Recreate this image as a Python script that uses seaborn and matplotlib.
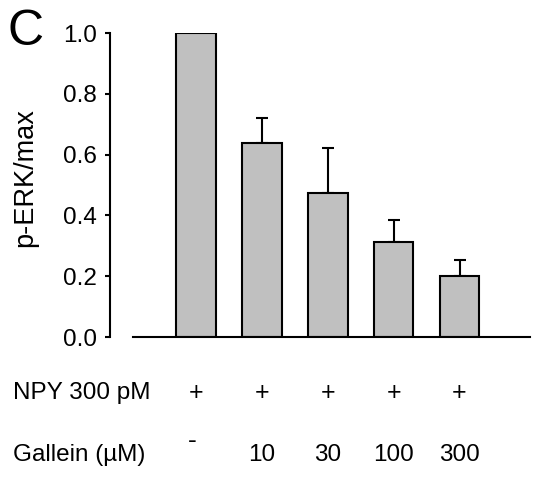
import matplotlib
matplotlib.use("Agg")
import matplotlib.pyplot as plt
import matplotlib.transforms as mtransforms
import seaborn as sns
import pandas as pd
import numpy as np

# ---- data ----
conditions = ["ctrl", "G10", "G30", "G100", "G300"]
values = [1.0, 0.637, 0.475, 0.311, 0.200]
err_upper = [0.0, 0.083, 0.148, 0.074, 0.052]
npy_labels = ["+", "+", "+", "+", "+"]
gallein_labels = ["-", "10", "30", "100", "300"]
ylabel = "p-ERK/max"
panel = "C"
yticks = [0.0, 0.2, 0.4, 0.6, 0.8, 1.0]

sns.set_style("white")
plt.rcParams["font.family"] = ["Liberation Sans", "DejaVu Sans"]
plt.rcParams["text.color"] = "black"
plt.rcParams["axes.labelcolor"] = "black"
plt.rcParams["xtick.color"] = "black"
plt.rcParams["ytick.color"] = "black"

df = pd.DataFrame({"cond": conditions, "val": values})

fig = plt.figure(figsize=(5.35, 4.78), dpi=100)
ax = fig.add_axes([110/535, 1-337/478, 420/535, (337-33)/478])

sns.barplot(data=df, x="cond", y="val", order=conditions, color="#c0c0c0",
            width=0.6, edgecolor="black", linewidth=1.5, saturation=1, ax=ax,
            errorbar=None, zorder=2)

x = np.arange(len(conditions))
mask = np.array(err_upper) > 0
ax.errorbar(x[mask], np.array(values)[mask],
            yerr=[np.zeros(mask.sum()), np.array(err_upper)[mask]],
            fmt="none", ecolor="black", elinewidth=1.5, capsize=4, capthick=1.5, zorder=1)

ax.set_ylim(0, 1.0)
ax.set_xlim(-1.305, 5.07)
ax.set_yticks(yticks)
ax.set_yticklabels([f"{t:.1f}" for t in yticks], fontsize=17.5, color="black")
ax.set_xticks([])
ax.set_xlabel("")
ax.set_ylabel(ylabel, fontsize=19.5, color="black")
ax.yaxis.set_label_coords(-0.202, 0.523)
ax.yaxis.label.set_va("center")

for s in ["top", "right"]:
    ax.spines[s].set_visible(False)
for s in ["left", "bottom"]:
    ax.spines[s].set_linewidth(1.5)
    ax.spines[s].set_color("black")
ax.spines["bottom"].set_bounds(-0.96, 5.07)
ax.spines["left"].set_bounds(0, 1.0)
ax.tick_params(axis="y", direction="out", length=3.5, width=1.5, color="black", pad=6, left=True)

trans = mtransforms.blended_transform_factory(ax.transData, fig.transFigure)
for i, lab in enumerate(npy_labels):
    ax.text(i, 1-393/478, lab, transform=trans, ha="center", va="center", fontsize=18, color="black")
for i, lab in enumerate(gallein_labels):
    if lab == "-":
        ax.text(i - 0.05, 1-441/478, lab, transform=trans, ha="center", va="center", fontsize=19, color="black")
    else:
        ax.text(i, 1-455/478, lab, transform=trans, ha="center", va="center", fontsize=17.5, color="black")
fig.text(13/535, 1-393/478, "NPY 300 pM", ha="left", va="center", fontsize=17.5, color="black")
fig.text(13/535, 1-455/478, "Gallein (µM)", ha="left", va="center", fontsize=17.5, color="black")
fig.text(8/535, 1-32/478, panel, ha="left", va="center", fontsize=36, color="black")

fig.savefig("out.png", dpi=100)
